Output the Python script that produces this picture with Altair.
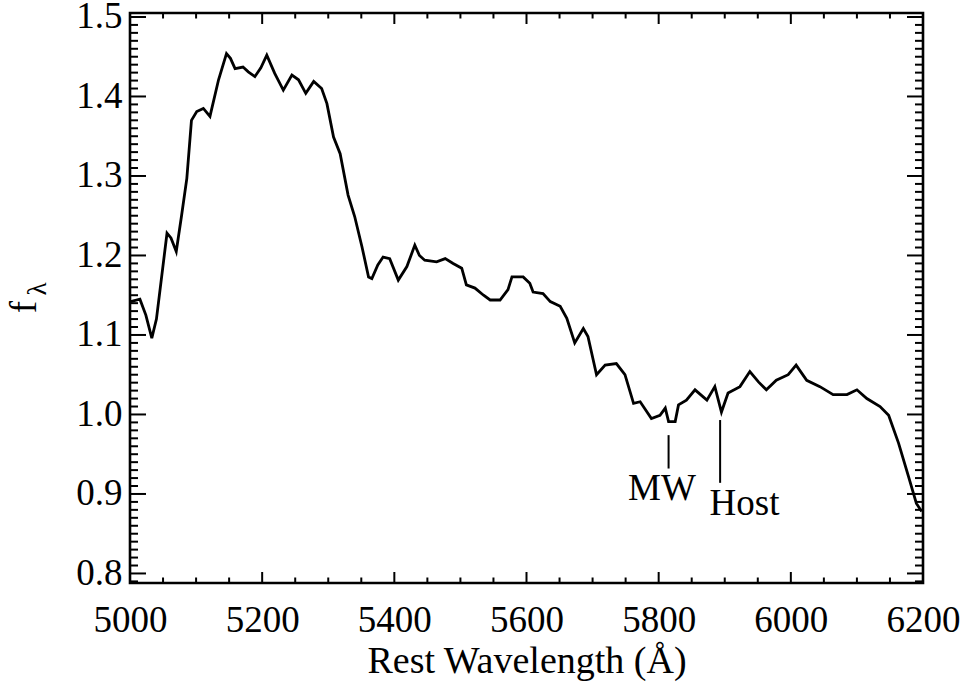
import altair as alt
import pandas as pd

# ---- spectrum ----
wavelength = [5001, 5015, 5024, 5033, 5040, 5056, 5062, 5070, 5078, 5086,
              5093, 5101, 5111, 5121, 5134, 5146, 5152, 5159, 5171, 5179,
              5189, 5198, 5207, 5219, 5232, 5245, 5255, 5266, 5278, 5290,
              5298, 5308, 5318, 5330, 5340, 5351, 5361, 5366, 5375, 5383,
              5393, 5406, 5419, 5431, 5438, 5446, 5464, 5477, 5489, 5502,
              5509, 5522, 5535, 5545, 5560, 5572, 5578, 5595, 5605, 5610,
              5625, 5636, 5651, 5661, 5673, 5686, 5693, 5706, 5719, 5736,
              5749, 5762, 5772, 5789, 5802, 5810, 5815, 5825, 5830, 5842,
              5855, 5873, 5885, 5895, 5905, 5923, 5938, 5951, 5963, 5978,
              5996, 6008, 6024, 6044, 6064, 6085, 6100, 6115, 6135, 6148,
              6163, 6178, 6190, 6198]
flux = [1.142, 1.145, 1.125, 1.096, 1.120, 1.228, 1.222, 1.205, 1.250, 1.297,
        1.370, 1.381, 1.385, 1.375, 1.421, 1.454, 1.448, 1.435, 1.437, 1.431,
        1.425, 1.436, 1.452, 1.429, 1.408, 1.427, 1.421, 1.404, 1.419, 1.410,
        1.391, 1.349, 1.328, 1.276, 1.249, 1.211, 1.173, 1.171, 1.188, 1.198,
        1.196, 1.169, 1.186, 1.213, 1.200, 1.194, 1.192, 1.196, 1.190, 1.184,
        1.163, 1.159, 1.150, 1.144, 1.144, 1.157, 1.173, 1.173, 1.165, 1.154,
        1.152, 1.142, 1.136, 1.121, 1.090, 1.108, 1.098, 1.050, 1.062, 1.064,
        1.050, 1.014, 1.016, 0.995, 0.999, 1.008, 0.991, 0.991, 1.012, 1.018,
        1.031, 1.018, 1.035, 1.003, 1.027, 1.035, 1.054, 1.041, 1.031, 1.043,
        1.050, 1.062, 1.043, 1.035, 1.025, 1.025, 1.031, 1.020, 1.010, 0.999,
        0.964, 0.922, 0.888, 0.878]

# ---- axis ticks ----
x_major = [5000, 5200, 5400, 5600, 5800, 6000, 6200]
x_minor = [5050, 5100, 5150, 5250, 5300, 5350, 5450, 5500, 5550,
           5650, 5700, 5750, 5850, 5900, 5950, 6050, 6100, 6150]
y_major = [0.8, 0.9, 1.0, 1.1, 1.2, 1.3, 1.4, 1.5]
y_minor = [round(0.79 + 0.01 * i, 2) for i in range(72)
           if round(0.79 + 0.01 * i, 2) not in y_major]

# ---- annotations ----
ann_label = ["MW", "Host"]
ann_line_x = [5815, 5893]
ann_line_top = [0.974, 0.993]
ann_line_bot = [0.932, 0.914]
ann_text_x = [5805, 5930]
ann_text_y = [0.892, 0.874]

W, H = 793, 570
FONT = "Liberation Serif"
xs = alt.Scale(domain=[5000, 6200], nice=False, zero=False)
ys = alt.Scale(domain=[0.788, 1.505], nice=False, zero=False)

spec = pd.DataFrame({"w": wavelength, "f": flux})
line = alt.Chart(spec).mark_line(color="black", strokeWidth=2.8).encode(
    x=alt.X("w:Q", scale=xs,
            axis=alt.Axis(values=x_major, format="d", title="Rest Wavelength (Å)",
                          labelPadding=48, labelBaseline="alphabetic",
                          labelFlush=False, labelOverlap=False,
                          titleBaseline="alphabetic", titleY=89)),
    y=alt.Y("f:Q", scale=ys,
            axis=alt.Axis(values=y_major, format=".1f", title="",
                          labelPadding=8, labelFlush=False, labelOverlap=False)),
)

TW = 2


def xticks(vals, length):
    d = pd.DataFrame({"w": vals})
    bot = alt.Chart(d).mark_rule(color="black", strokeWidth=TW).encode(
        x=alt.X("w:Q", scale=xs), y=alt.value(H), y2=alt.value(H - length))
    top = alt.Chart(d).mark_rule(color="black", strokeWidth=TW).encode(
        x=alt.X("w:Q", scale=xs), y=alt.value(0), y2=alt.value(length))
    return [bot, top]


def yticks(vals, length):
    d = pd.DataFrame({"f": vals})
    left = alt.Chart(d).mark_rule(color="black", strokeWidth=TW).encode(
        y=alt.Y("f:Q", scale=ys), x=alt.value(0), x2=alt.value(length))
    right = alt.Chart(d).mark_rule(color="black", strokeWidth=TW).encode(
        y=alt.Y("f:Q", scale=ys), x=alt.value(W), x2=alt.value(W - length))
    return [left, right]


ticks = xticks(x_major, 11) + xticks(x_minor, 5.5) + yticks(y_major, 16) + yticks(y_minor, 8)

ann_l = pd.DataFrame({"w": ann_line_x, "f": ann_line_top, "f2": ann_line_bot})
ann_t = pd.DataFrame({"label": ann_label, "w": ann_text_x, "f": ann_text_y})
ann_lines = alt.Chart(ann_l).mark_rule(color="black", strokeWidth=2).encode(
    x=alt.X("w:Q", scale=xs), y=alt.Y("f:Q", scale=ys), y2="f2:Q")
ann_text = alt.Chart(ann_t).mark_text(font=FONT, fontSize=37, color="black",
                                      align="center", baseline="alphabetic").encode(
    x=alt.X("w:Q", scale=xs), y=alt.Y("f:Q", scale=ys), text="label:N")

ytitle_f = alt.Chart(pd.DataFrame({"t": ["f"]})).mark_text(
    font=FONT, fontSize=37, color="black", angle=270, align="center",
    baseline="alphabetic").encode(x=alt.value(-94), y=alt.value(294), text="t:N")
ytitle_l = alt.Chart(pd.DataFrame({"t": ["λ"]})).mark_text(
    font=FONT, fontSize=27, color="black", angle=270, align="center",
    baseline="alphabetic").encode(x=alt.value(-84), y=alt.value(276), text="t:N")

chart = alt.layer(line, *ticks, ann_lines, ann_text, ytitle_f, ytitle_l).properties(
    width=W, height=H,
    autosize=alt.AutoSizeParams(type="none"),
    padding={"left": 130, "top": 13, "right": 46, "bottom": 102},
    background="white",
).configure_view(stroke="black", strokeWidth=2.6).configure_axis(
    domain=False, ticks=False, tickSize=0, grid=False,
    labelFont=FONT, labelFontSize=37, labelColor="black",
    titleFont=FONT, titleFontSize=38, titleColor="black", titleFontWeight="normal",
)

chart.save("out.html", embed_options={"renderer": "svg", "actions": False})
